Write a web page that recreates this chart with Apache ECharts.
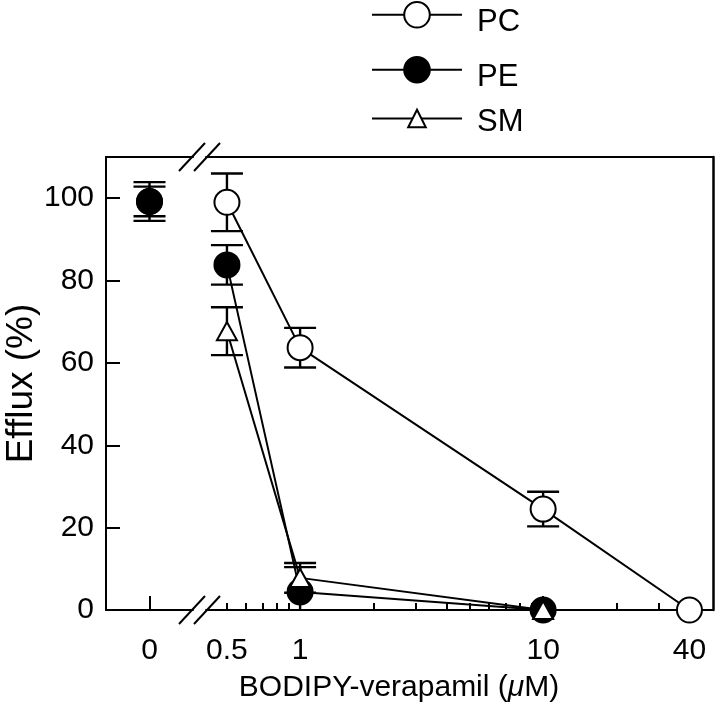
<!DOCTYPE html>
<html>
<head>
<meta charset="utf-8">
<script src="https://cdn.jsdelivr.net/npm/echarts@6/dist/echarts.min.js"></script>
<style>html,body{margin:0;padding:0;background:#fff;}#c{width:719px;height:709px;}</style>
</head>
<body>
<div id="c"></div>
<script>
// ---- data ----
const controlCategories = ['0'];
const pcControl = [99.2];
const pcControlErr = [4.7];
const peControl = [99.2];
const peControlErr = [3.6];

const pcConc = [0.5, 1, 10, 40];
const pcValues = [99, 63.7, 24.5, 0];
const pcErr = [7, 4.8, 4.2, 0];

const conc = [0.5, 1, 10];
const peValues = [83.8, 4.4, 0];
const peErr = [4.8, 6, 0];
const smValues = [67.7, 7.8, 0];
const smErr = [5.8, 3.6, 0];

const xMajorTicks = [1, 10];
const xMinorTicks = [0.5, 0.6, 0.7, 0.8, 0.9, 2, 3, 4, 5, 6, 7, 8, 9, 20, 30, 40];
const xTickLabels = [0.5, 1, 10, 40];
const yTicks = [0, 20, 40, 60, 80, 100];

// ---- layout ----
const FONT = "'Liberation Sans', Arial, Helvetica, sans-serif";
const FS = 30;
const G1 = {left: 106, top: 157, width: 87, height: 453};
const G2 = {left: 206, top: 157, width: 507, height: 453};
const LW = 2;
const MS = 25;

function pairs(xs, ys, es) { return xs.map((x, i) => es ? [x, ys[i], es[i]] : [x, ys[i]]); }

function errRender(params, api) {
  const x = api.value(0), y = api.value(1), e = api.value(2);
  if (!e) return null;
  const t = api.coord([x, y + e]);
  const b = api.coord([x, y - e]);
  const hw = 16;
  const st = {stroke: '#000', lineWidth: 2.4, fill: null};
  return {type: 'group', children: [
    {type: 'line', shape: {x1: t[0], y1: t[1], x2: b[0], y2: b[1]}, style: st},
    {type: 'line', shape: {x1: t[0] - hw, y1: t[1], x2: t[0] + hw, y2: t[1]}, style: st},
    {type: 'line', shape: {x1: b[0] - hw, y1: b[1], x2: b[0] + hw, y2: b[1]}, style: st}
  ]};
}

const txt = {color: '#000', fontFamily: FONT, fontSize: FS};
const blackLine = {show: true, onZero: false, lineStyle: {color: '#000', width: LW}};

function slash(cx, cy) {
  return {type: 'line', z: 100, shape: {x1: cx - 13, y1: cy + 14, x2: cx + 13, y2: cy - 14},
          style: {stroke: '#000', lineWidth: LW}};
}
const gapL = G1.left + G1.width - 1, gapR = G2.left + 1, yTop = G1.top, yBot = G1.top + G1.height;

function legendTextStyle(shift, fs) {
  return Object.assign({}, txt, {fontSize: fs, rich: {a: {fontFamily: FONT, fontSize: fs, color: '#000', padding: [shift, 0, 0, 10]}}});
}

const chart = echarts.init(document.getElementById('c'), null, {renderer: 'canvas'});
chart.setOption({
  animation: false,
  backgroundColor: '#fff',
  textStyle: {fontFamily: FONT},
  grid: [
    Object.assign({containLabel: false, outerBoundsMode: 'none'}, G1),
    Object.assign({containLabel: false, outerBoundsMode: 'none'}, G2)
  ],
  legend: [
    {data: ['PC'], left: 371, top: 1, padding: 0, itemWidth: 90, itemHeight: 32, selectedMode: false,
     formatter: '{a|{name}}', textStyle: legendTextStyle(15, 31)},
    {data: ['PE'], left: 371, top: 56, padding: 0, itemWidth: 90, itemHeight: 32, selectedMode: false,
     formatter: '{a|{name}}', textStyle: legendTextStyle(15, 31)},
    {data: ['SM'], left: 371, top: 107, padding: 0, itemWidth: 90, itemHeight: 22, selectedMode: false,
     formatter: '{a|{name}}', textStyle: legendTextStyle(8, 31)}
  ],
  xAxis: [
    {gridIndex: 0, type: 'category', data: controlCategories, boundaryGap: true, position: 'bottom',
     axisLine: blackLine, splitLine: {show: false},
     axisTick: {show: true, inside: true, length: 14, alignWithLabel: true, lineStyle: {color: '#000', width: LW}},
     axisLabel: Object.assign({show: true, margin: 26}, txt)},
    {gridIndex: 0, type: 'category', data: controlCategories, position: 'top',
     axisLine: blackLine, splitLine: {show: false}, axisTick: {show: false}, axisLabel: {show: false}},
    {gridIndex: 1, type: 'log', logBase: 10, min: 0.41, max: 50, position: 'bottom',
     axisLine: blackLine, splitLine: {show: false}, minorTick: {show: false},
     axisTick: {show: true, inside: true, length: 14, customValues: xMajorTicks, lineStyle: {color: '#000', width: LW}},
     axisLabel: Object.assign({show: true, margin: 26, customValues: xTickLabels,
       formatter: v => String(+v.toPrecision(3))}, txt)},
    {gridIndex: 1, type: 'log', logBase: 10, min: 0.41, max: 50, position: 'bottom',
     axisLine: {show: false}, splitLine: {show: false}, minorTick: {show: false},
     axisTick: {show: true, inside: true, length: 7, customValues: xMinorTicks, lineStyle: {color: '#000', width: LW}},
     axisLabel: {show: false}},
    {gridIndex: 1, type: 'log', logBase: 10, min: 0.41, max: 50, position: 'top',
     axisLine: blackLine, splitLine: {show: false}, axisTick: {show: false}, axisLabel: {show: false}, minorTick: {show: false}}
  ],
  yAxis: [
    {gridIndex: 0, type: 'value', min: 0, max: 110, position: 'left',
     name: 'Efflux (%)', nameLocation: 'middle', nameGap: 64, nameRotate: 90,
     nameTextStyle: Object.assign({}, txt, {fontSize: 37}),
     axisLine: blackLine, splitLine: {show: false},
     axisTick: {show: true, inside: true, length: 14, customValues: yTicks, lineStyle: {color: '#000', width: LW}},
     axisLabel: Object.assign({show: true, margin: 12, customValues: yTicks}, txt)},
    {gridIndex: 1, type: 'value', min: 0, max: 110, position: 'right',
     axisLine: {show: true, onZero: false, lineStyle: {color: '#000', width: 2.5}},
     splitLine: {show: false}, axisTick: {show: false}, axisLabel: {show: false}}
  ],
  series: [
    {name: 'PC err', type: 'custom', xAxisIndex: 2, yAxisIndex: 1, z: 1, clip: true,
     renderItem: errRender, data: pairs(pcConc, pcValues, pcErr)},
    {name: 'PE err', type: 'custom', xAxisIndex: 2, yAxisIndex: 1, z: 1, clip: true,
     renderItem: errRender, data: pairs(conc, peValues, peErr)},
    {name: 'SM err', type: 'custom', xAxisIndex: 2, yAxisIndex: 1, z: 1, clip: true,
     renderItem: errRender, data: pairs(conc, smValues, smErr)},
    {name: 'PC ctrl err', type: 'custom', xAxisIndex: 0, yAxisIndex: 0, z: 1, clip: true,
     renderItem: errRender, data: pairs(controlCategories, pcControl, pcControlErr)},
    {name: 'PE ctrl err', type: 'custom', xAxisIndex: 0, yAxisIndex: 0, z: 1, clip: true,
     renderItem: errRender, data: pairs(controlCategories, peControl, peControlErr)},
    {name: 'PC', type: 'line', xAxisIndex: 2, yAxisIndex: 1, z: 3, clip: false,
     symbol: 'circle', symbolSize: MS, showAllSymbol: true,
     lineStyle: {color: '#000', width: LW},
     itemStyle: {color: '#fff', borderColor: '#000', borderWidth: LW, opacity: 1},
     data: pairs(pcConc, pcValues)},
    {name: 'PE', type: 'line', xAxisIndex: 2, yAxisIndex: 1, z: 4, clip: false,
     symbol: 'circle', symbolSize: MS, showAllSymbol: true,
     lineStyle: {color: '#000', width: LW},
     itemStyle: {color: '#000', borderColor: '#000', borderWidth: LW, opacity: 1},
     data: pairs(conc, peValues)},
    {name: 'SM', type: 'line', xAxisIndex: 2, yAxisIndex: 1, z: 5, clip: false,
     symbol: 'triangle', symbolSize: [20, 18], showAllSymbol: true,
     lineStyle: {color: '#000', width: LW},
     itemStyle: {color: '#fff', borderColor: '#000', borderWidth: LW, opacity: 1},
     data: pairs(conc, smValues)},
    {name: 'PC', type: 'scatter', xAxisIndex: 0, yAxisIndex: 0, z: 3,
     symbol: 'circle', symbolSize: MS,
     itemStyle: {color: '#fff', borderColor: '#000', borderWidth: LW, opacity: 1},
     data: pairs(controlCategories, pcControl)},
    {name: 'PE', type: 'scatter', xAxisIndex: 0, yAxisIndex: 0, z: 4,
     symbol: 'circle', symbolSize: MS,
     itemStyle: {color: '#000', borderColor: '#000', borderWidth: LW, opacity: 1},
     data: pairs(controlCategories, peControl)}
  ],
  graphic: [
    slash(gapL, yTop), slash(gapR, yTop), slash(gapL, yBot), slash(gapR, yBot),
    {type: 'text', z: 100,
     style: {text: 'BODIPY-verapamil ({i|μ}M)', x: 399, y: 688,
             align: 'center', verticalAlign: 'middle', fill: '#000',
             fontFamily: FONT, fontSize: FS,
             rich: {i: {fontStyle: 'italic', fontFamily: FONT, fontSize: FS, fill: '#000'}}}}
  ]
});
</script>
</body>
</html>
